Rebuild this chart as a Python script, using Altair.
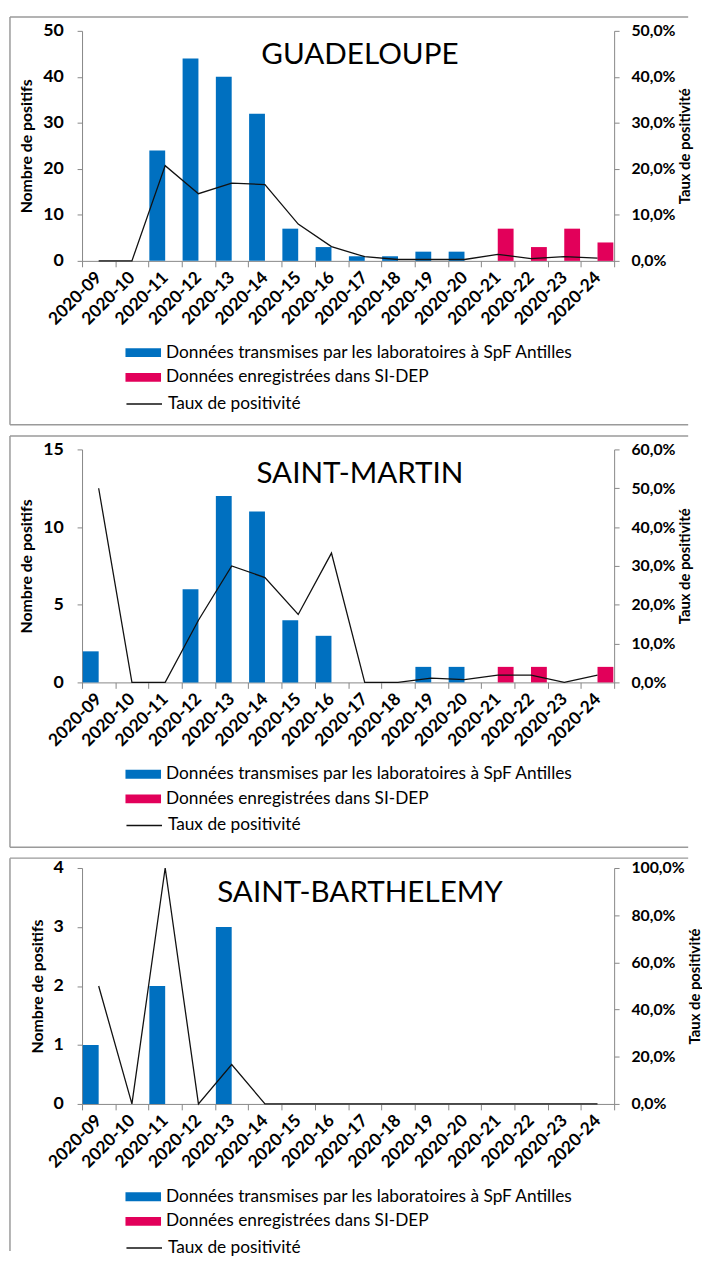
import altair as alt
import pandas as pd

weeks = ["2020-09", "2020-10", "2020-11", "2020-12", "2020-13", "2020-14", "2020-15", "2020-16",
         "2020-17", "2020-18", "2020-19", "2020-20", "2020-21", "2020-22", "2020-23", "2020-24"]

LAB = "Données transmises par les laboratoires à SpF Antilles"
SIDEP = "Données enregistrées dans SI-DEP"
TAUX = "Taux de positivité"

# Guadeloupe
gua_lab = [0, 0, 24, 44, 40, 32, 7, 3, 1, 1, 2, 2, 0, 0, 0, 0]
gua_sidep = [0, 0, 0, 0, 0, 0, 0, 0, 0, 0, 0, 0, 7, 3, 7, 4]
gua_taux = [0.0, 0.0, 20.7, 14.6, 16.9, 16.6, 8.0, 3.1, 0.9, 0.3, 0.3, 0.3, 1.4, 0.5, 0.9, 0.6]

# Saint-Martin
sm_lab = [2, 0, 0, 6, 12, 11, 4, 3, 0, 0, 1, 1, 0, 0, 0, 0]
sm_sidep = [0, 0, 0, 0, 0, 0, 0, 0, 0, 0, 0, 0, 1, 1, 0, 1]
sm_taux = [50.0, 0.0, 0.0, 16.0, 30.0, 27.0, 17.5, 33.3, 0.0, 0.0, 1.1, 0.7, 1.9, 1.9, 0.0, 1.9]

# Saint-Barthelemy
sb_lab = [1, 0, 2, 0, 3, 0, 0, 0, 0, 0, 0, 0, 0, 0, 0, 0]
sb_sidep = [0, 0, 0, 0, 0, 0, 0, 0, 0, 0, 0, 0, 0, 0, 0, 0]
sb_taux = [50.0, 0.0, 100.0, 0.0, 16.7, 0.0, 0.0, 0.0, 0.0, 0.0, 0.0, 0.0, 0.0, 0.0, 0.0, 0.0]

BLUE = "#0070C0"
PINK = "#E2005A"
FRAME = "#9a9a9a"
AXIS = "#868686"
FONT = "Lato"
W = 539


def panel(name, lab, sidep, taux, ymax, yvals, rmax, rvals, h, frame_top, frame_bottom, legend_y):
    bars_df = pd.DataFrame({
        "week": weeks + weeks,
        "serie": [LAB] * len(weeks) + [SIDEP] * len(weeks),
        "value": lab + sidep,
    })
    line_df = pd.DataFrame({
        "week": weeks,
        "taux": [t / 100 for t in taux],
        "lab": [TAUX] * len(weeks),
    })
    xenc = alt.X(
        "week:N",
        scale=alt.Scale(domain=weeks, paddingInner=0, paddingOuter=0),
        axis=alt.Axis(title=None, labelAngle=-45, labelAlign="right", labelBaseline="middle",
                      tickBand="extent", tickSize=6, labelPadding=8, labelFontSize=17.5,
                      domainColor=AXIS, tickColor=AXIS),
    )
    bars = alt.Chart(bars_df).mark_bar().encode(
        x=xenc,
        xOffset=alt.XOffset("serie:N", scale=alt.Scale(domain=[LAB, SIDEP], paddingInner=0, paddingOuter=0.05)),
        y=alt.Y("value:Q", scale=alt.Scale(domain=[0, ymax], nice=False),
                axis=alt.Axis(orient="left", values=yvals, title="Nombre de positifs", tickSize=5,
                              labelPadding=14, titlePadding=8, labelFontSize=18,
                              domainColor=AXIS, tickColor=AXIS)),
        fill=alt.Fill("serie:N", scale=alt.Scale(domain=[LAB, SIDEP], range=[BLUE, PINK]),
                      legend=alt.Legend(title=None, orient="none", legendX=44, legendY=legend_y,
                                        symbolType="M-1,-0.5H3V0.5H-1Z", symbolSize=324,
                                        symbolStrokeWidth=0, labelOffset=23, rowPadding=7,
                                        labelLimit=800,
                                        labelFont=FONT, labelFontSize=17.5, labelColor="#000")),
    )
    line = alt.Chart(line_df).mark_line(strokeWidth=1.3).encode(
        x=xenc,
        y=alt.Y("taux:Q", scale=alt.Scale(domain=[0, rmax], nice=False),
                axis=alt.Axis(orient="right", values=rvals, title=TAUX, titleAngle=270,
                              titleBaseline="top", titleFontSize=15,
                              labelExpr="replace(format(datum.value, '.1%'), '.', ',')",
                              tickSize=5, labelPadding=12, titlePadding=3, labelFontSize=16,
                              domainColor=AXIS, tickColor=AXIS)),
        stroke=alt.Stroke("lab:N", scale=alt.Scale(domain=[TAUX], range=["#111111"]),
                          legend=alt.Legend(title=None, orient="none", legendX=44, legendY=legend_y + 51,
                                            symbolType="M-1,0H3", symbolSize=324, symbolStrokeWidth=1.5,
                                            labelOffset=23, labelFont=FONT, labelFontSize=17.5,
                                            labelLimit=800, labelColor="#000")),
    )
    fdf = pd.DataFrame({"k": [0]})
    heading = alt.Chart(fdf).mark_text(
        font=FONT, fontSize=30, fontWeight="normal", color="#000", align="center", baseline="alphabetic"
    ).encode(x=alt.value(W / 2 + 12), y=alt.value(34), text=alt.value(name))
    rules = [
        alt.Chart(fdf).mark_rule(color=FRAME, strokeWidth=1.5).encode(
            x=alt.value(-73), x2=alt.value(614), y=alt.value(frame_top), y2=alt.value(frame_top)),
        alt.Chart(fdf).mark_rule(color=FRAME, strokeWidth=1.5).encode(
            x=alt.value(-73), x2=alt.value(-73), y=alt.value(frame_top), y2=alt.value(frame_bottom)),
    ]
    if name != "SAINT-BARTHELEMY":
        rules.append(alt.Chart(fdf).mark_rule(color=FRAME, strokeWidth=1.5).encode(
            x=alt.value(-73), x2=alt.value(614), y=alt.value(frame_bottom), y2=alt.value(frame_bottom)))
    return alt.layer(bars, line, heading, *rules).resolve_scale(y="independent").properties(
        width=W, height=h,
    )


p1 = panel("GUADELOUPE", gua_lab, gua_sidep, gua_taux, 50, [0, 10, 20, 30, 40, 50],
           0.5, [0, 0.1, 0.2, 0.3, 0.4, 0.5], 233, -14, 399, 317)
p2 = panel("SAINT-MARTIN", sm_lab, sm_sidep, sm_taux, 15, [0, 5, 10, 15],
           0.6, [0, 0.1, 0.2, 0.3, 0.4, 0.5, 0.6], 236, -13.5, 403, 320)
p3 = panel("SAINT-BARTHELEMY", sb_lab, sb_sidep, sb_taux, 4, [0, 1, 2, 3, 4],
           1.0, [0, 0.2, 0.4, 0.6, 0.8, 1.0], 239, -10, 388, 324)

chart = alt.vconcat(p1, p2, p3, spacing=9).resolve_scale(
    fill="independent", stroke="independent", x="independent"
).properties(
    padding={"left": 1, "top": 0, "right": 0, "bottom": 0}
).configure_view(strokeWidth=0).configure_axis(
    grid=False, labelFont=FONT, labelFontWeight="bold", labelFontSize=17, labelColor="#000",
    titleFont=FONT, titleFontWeight="bold", titleFontSize=16, titleColor="#000",
)

chart.save("out.html", embed_options={"renderer": "svg", "actions": False})
